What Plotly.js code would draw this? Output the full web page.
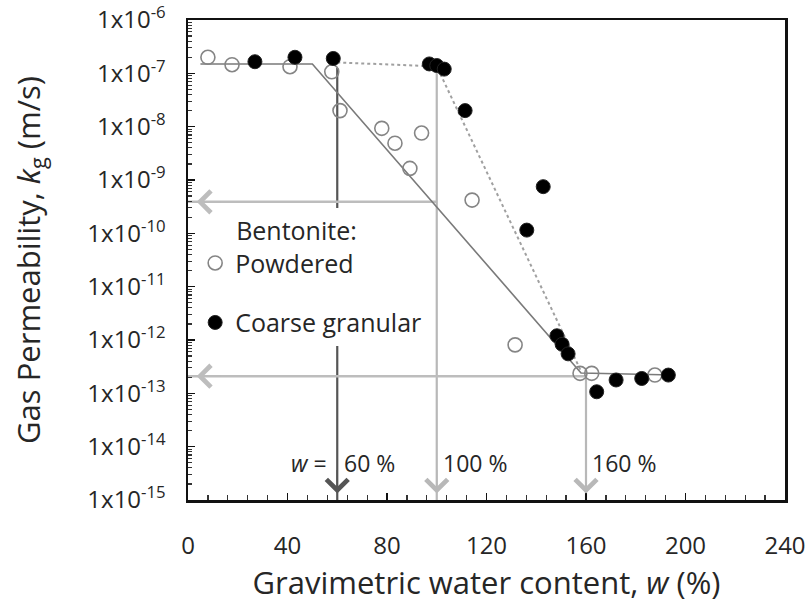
<!DOCTYPE html>
<html>
<head>
<meta charset="utf-8">
<script src="https://cdn.plot.ly/plotly-3.0.1.min.js"></script>
<style>html,body{margin:0;padding:0;background:#fff}#chart{width:809px;height:604px}</style>
</head>
<body>
<div id="chart"></div>
<script>
// Powdered bentonite (open circles)
const powderedW = [8, 17.7, 41, 57.8, 61.1, 77.9, 83.2, 89.2, 93.9, 114.2, 131.5, 157.6, 162.3, 187.7];
const powderedK = [2.0e-7, 1.45e-7, 1.33e-7, 1.07e-7, 2.0e-8, 9.3e-9, 4.9e-9, 1.65e-9, 7.6e-9, 4.2e-10, 8.1e-13, 2.37e-13, 2.37e-13, 2.2e-13];
// Coarse granular bentonite (filled circles)
const coarseW = [26.9, 43, 58.4, 97, 100, 103, 111.4, 136.2, 142.8, 148.3, 150.4, 152.8, 164.3, 172.1, 182.4, 193.1];
const coarseK = [1.65e-7, 2.0e-7, 1.9e-7, 1.5e-7, 1.4e-7, 1.2e-7, 2.0e-8, 1.15e-10, 7.5e-10, 1.2e-12, 8.3e-13, 5.5e-13, 1.07e-13, 1.78e-13, 1.9e-13, 2.2e-13];
// Trend lines
const powderedFitW = [5, 50, 158, 195];
const powderedFitK = [1.5e-7, 1.5e-7, 2.4e-13, 2.2e-13];
const coarseFitW = [60, 100, 158];
const coarseFitK = [1.6e-7, 1.35e-7, 2.6e-13];
// Guide arrows
const guideW = [60, 100, 160];
const guideTopK = [1.26e-7, 1.3e-7, 2.1e-13];
const guideLabels = ['60 %', '100 %', '160 %'];
const guideColors = ['#555555', '#b8b8b8', '#b8b8b8'];
const levelFromW = [100, 160];
const levelK = [3.9e-10, 2.1e-13];
// Axes
const xTickVals = [0, 40, 80, 120, 160, 200, 240];
const kExponents = [-15, -14, -13, -12, -11, -10, -9, -8, -7, -6];
const kTickVals = kExponents.map(e => Math.pow(10, e));
const kTickText = kExponents.map(e => '1x10<sup>' + e + '</sup>');

const X_MIN = 0, K_MIN = 1e-15;
const FONT = 'Open Sans, sans-serif';
const TXT = '#262626';

const traces = [];
guideW.forEach((w, i) => {
  traces.push({x: [w, w], y: [guideTopK[i], K_MIN], mode: 'lines', type: 'scatter',
    line: {color: guideColors[i], width: 2.2}, showlegend: false, hoverinfo: 'skip'});
});
levelK.forEach((k, i) => {
  traces.push({x: [levelFromW[i], X_MIN], y: [k, k], mode: 'lines', type: 'scatter',
    line: {color: '#bdbdbd', width: 2.5}, showlegend: false, hoverinfo: 'skip'});
});
traces.push({x: powderedFitW, y: powderedFitK, mode: 'lines', type: 'scatter',
  line: {color: '#7a7a7a', width: 1.6}, showlegend: false, hoverinfo: 'skip'});
traces.push({x: coarseFitW, y: coarseFitK, mode: 'lines', type: 'scatter',
  line: {color: '#a0a0a0', width: 2, dash: 'dot'}, showlegend: false, hoverinfo: 'skip'});
traces.push({x: powderedW, y: powderedK, mode: 'markers', type: 'scatter', name: 'Powdered',
  legendgroup: 'p',
  marker: {symbol: 'circle-open', size: 14, color: '#858585', line: {width: 1.6, color: '#858585'}}});
traces.push({x: coarseW, y: coarseK, mode: 'markers', type: 'scatter', name: 'Coarse granular',
  legendgroup: 'c',
  marker: {symbol: 'circle', size: 14, color: '#000000', line: {width: 1, color: '#222'}}});

const annotations = [];
guideW.forEach((w, i) => {
  annotations.push({x: w, y: Math.log10(K_MIN) + 0.12, xref: 'x', yref: 'y', ax: 0, ay: -25,
    showarrow: true, arrowhead: 4, arrowsize: 2.8, arrowwidth: 1.5, arrowcolor: guideColors[i], text: ''});
  annotations.push({x: w + 1.8, y: -14.31, xref: 'x', yref: 'y', xanchor: 'left', yanchor: 'middle',
    showarrow: false, text: guideLabels[i], font: {family: FONT, size: 23, color: TXT}});
});
annotations.push({x: guideW[0] - 3.5, y: -14.31, xref: 'x', yref: 'y', xanchor: 'right', yanchor: 'middle',
  showarrow: false, text: '<i>w</i> =', font: {family: FONT, size: 23, color: TXT}});
levelK.forEach((k) => {
  annotations.push({x: X_MIN + 3.5, y: Math.log10(k), xref: 'x', yref: 'y', ax: 25, ay: 0,
    showarrow: true, arrowhead: 4, arrowsize: 2.8, arrowwidth: 1.5, arrowcolor: '#bdbdbd', text: ''});
});

const layout = {
  width: 809, height: 604,
  margin: {l: 188, r: 24, t: 20, b: 104},
  paper_bgcolor: '#fff', plot_bgcolor: '#fff',
  font: {family: FONT, color: TXT},
  showlegend: true,
  legend: {
    x: 0.012, y: 0.609, xanchor: 'left', yanchor: 'top',
    bgcolor: '#ffffff', borderwidth: 0,
    font: {family: FONT, size: 25, color: TXT},
    title: {text: '&nbsp;&nbsp;&nbsp;&nbsp;&nbsp;&nbsp;Bentonite:', font: {family: FONT, size: 25, color: TXT}},
    tracegroupgap: 24, itemsizing: 'trace'
  },
  xaxis: {
    range: [0, 240], tickmode: 'array', tickvals: xTickVals,
    showline: true, linecolor: '#111', linewidth: 2.5, mirror: true,
    ticks: 'inside', ticklen: 7, tickwidth: 1.5, tickcolor: '#111',
    minor: {dtick: 8, tick0: 0, ticks: 'inside', ticklen: 5, tickwidth: 1.2, tickcolor: '#333'},
    showgrid: false, zeroline: false,
    tickfont: {family: FONT, size: 24, color: TXT}, ticklabelstandoff: 23,
    title: {text: 'Gravimetric water content, <i>w</i> (%)', font: {family: FONT, size: 31, color: TXT}, standoff: 9}
  },
  yaxis: {
    type: 'log', range: [-15, -6], tickmode: 'array', tickvals: kTickVals, ticktext: kTickText,
    showline: true, linecolor: '#111', linewidth: 2.5, mirror: true,
    ticks: 'inside', ticklen: 7, tickwidth: 1.5, tickcolor: '#111',
    minor: {dtick: 'D1', ticks: 'inside', ticklen: 4, tickwidth: 1.2, tickcolor: '#333'},
    showgrid: false, zeroline: false,
    tickfont: {family: FONT, size: 24, color: TXT}, ticklabelstandoff: 15,
    title: {text: 'Gas Permeability, <i>k</i><sub>g</sub> (m/s)', font: {family: FONT, size: 31, color: TXT}, standoff: 38}
  },
  annotations: annotations
};

Plotly.newPlot('chart', traces, layout, {displayModeBar: false, staticPlot: true});
</script>
</body>
</html>
